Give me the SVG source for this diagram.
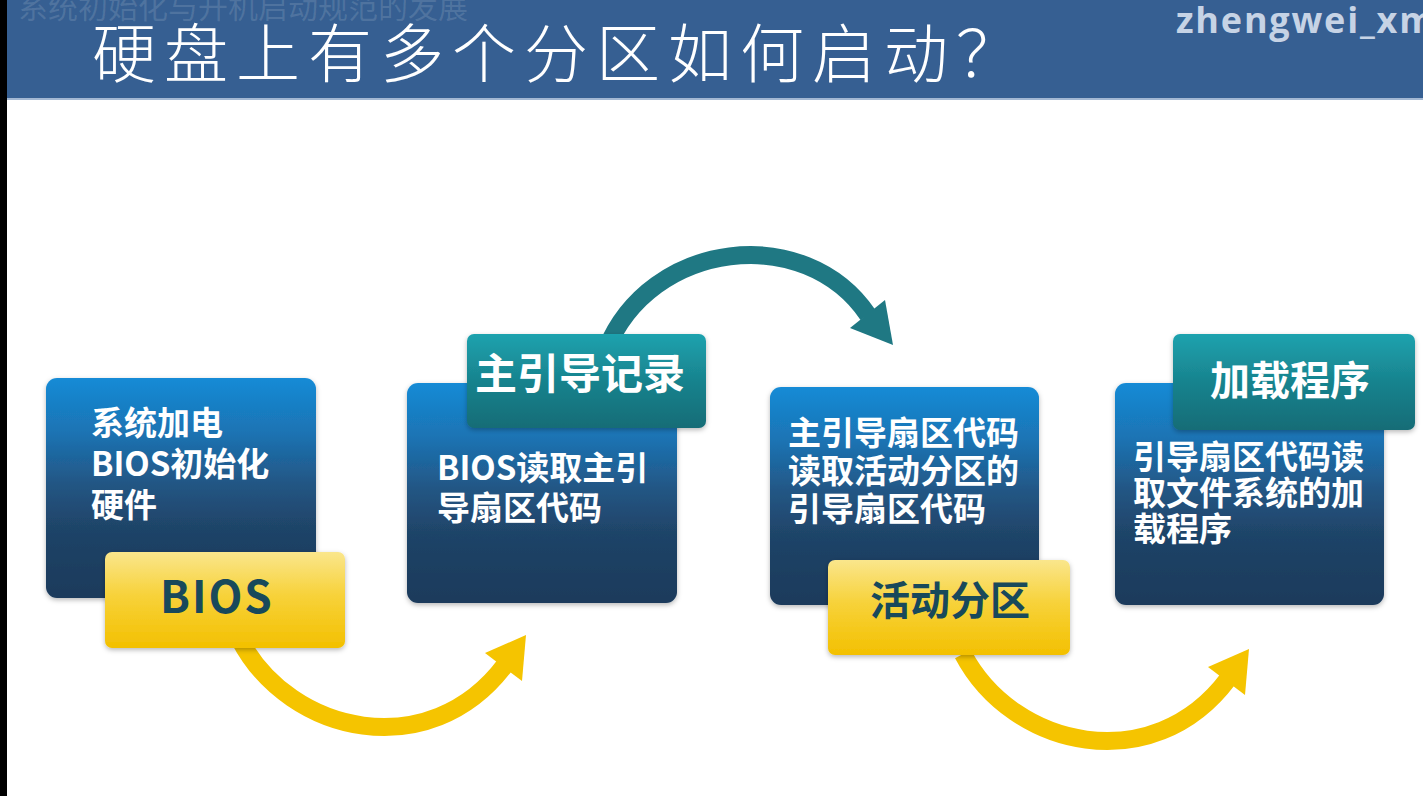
<svg xmlns="http://www.w3.org/2000/svg" width="1423" height="796" viewBox="0 0 1423 796">
<defs>
<linearGradient id="gBlue" x1="0" y1="0" x2="0" y2="1">
<stop offset="0" stop-color="#168bd6"/>
<stop offset="0.25" stop-color="#1b73b3"/>
<stop offset="0.48" stop-color="#235684"/>
<stop offset="0.68" stop-color="#1f4468"/>
<stop offset="1" stop-color="#1b3a5b"/>
</linearGradient>
<linearGradient id="gTeal" x1="0" y1="0" x2="0" y2="1">
<stop offset="0" stop-color="#1ea2ae"/>
<stop offset="0.5" stop-color="#18838e"/>
<stop offset="1" stop-color="#146c76"/>
</linearGradient>
<linearGradient id="gYellow" x1="0" y1="0" x2="0" y2="1">
<stop offset="0" stop-color="#fae68c"/>
<stop offset="0.45" stop-color="#f7d23a"/>
<stop offset="1" stop-color="#f3c000"/>
</linearGradient>
<filter id="shadow" x="-10%" y="-10%" width="120%" height="130%">
<feDropShadow dx="0" dy="2" stdDeviation="2.5" flood-color="#000" flood-opacity="0.28"/>
</filter>
</defs>
<style>
.blue{fill:url(#gBlue);filter:url(#shadow)}
.teal{fill:url(#gTeal);filter:url(#shadow)}
.yellow{fill:url(#gYellow);filter:url(#shadow)}
.body{font-family:"Noto Sans CJK SC","Liberation Sans",sans-serif;font-weight:700;font-size:33px;fill:#ffffff}
.tlab{font-family:"Noto Sans CJK SC","Liberation Sans",sans-serif;font-weight:700;fill:#ffffff}
.ylab{font-family:"Noto Sans CJK SC","Liberation Sans",sans-serif;font-weight:700;fill:#18495b}
.yarc{fill:none;stroke:#f5c400;stroke-width:18}
.yhead{fill:#f5c400}
.tarc{fill:none;stroke:#1f7883;stroke-width:18}
.thead{fill:#1f7883}
</style>
<rect x="0" y="0" width="1423" height="796" fill="#ffffff"/>
<g id="header">
<rect x="0" y="0" width="1423" height="98" fill="#365f92"/>
<rect x="0" y="98" width="1423" height="2" fill="#a3b8d3"/>
<text x="18" y="18" font-family="'Noto Sans CJK SC',sans-serif" font-size="30" fill="#ffffff" fill-opacity="0.13">系统初始化与开机启动规范的发展</text>
<text x="92" y="77" font-family="'Noto Sans CJK SC',sans-serif" font-weight="300" font-size="64" letter-spacing="8" fill="#ffffff">硬盘上有多个分区如何启动？</text>
<text x="1176" y="33" font-family="'Open Sans','Liberation Sans',sans-serif" font-weight="700" font-size="36" letter-spacing="1.8" fill="#c6d3e5">zhengwei_xm</text>
</g>
<rect x="0" y="0" width="7" height="796" fill="#000000"/>
<g id="connectors">
<path class="yarc" d="M 240 640 C 290 735, 430 765, 505 665"/>
<polygon class="yhead" points="526,635 485,653 522,681"/>
<g transform="translate(723,14)">
<path class="yarc" d="M 240 640 C 290 735, 430 765, 505 665"/>
<polygon class="yhead" points="526,635 485,653 522,681"/>
</g>
<path class="tarc" d="M 606 350 C 650 240, 805 222, 868 315"/>
<polygon class="thead" points="893,345 850,328 885,300"/>
</g>
<g id="step1">
<rect class="blue" x="46" y="378" width="270" height="220" rx="11"/>
<text class="body" x="91"><tspan x="91" y="435">系统加电</tspan><tspan x="91" y="476">BIOS初始化</tspan><tspan x="91" y="517">硬件</tspan></text>
</g>
<g id="label-bios">
<rect class="yellow" x="105" y="552" width="240" height="96" rx="7"/>
<text class="ylab" x="160" y="613" font-size="44" letter-spacing="2">BIOS</text>
</g>
<g id="step2">
<rect class="blue" x="407" y="383" width="270" height="220" rx="11"/>
<text class="body"><tspan x="437" y="480">BIOS读取主引</tspan><tspan x="437" y="520">导扇区代码</tspan></text>
</g>
<g id="label-mbr">
<rect class="teal" x="467" y="334" width="239" height="94" rx="7"/>
<text class="tlab" x="475" y="389" font-size="42">主引导记录</text>
</g>
<g id="step3">
<rect class="blue" x="770" y="387" width="269" height="218" rx="11"/>
<text class="body"><tspan x="788" y="445">主引导扇区代码</tspan><tspan x="788" y="483">读取活动分区的</tspan><tspan x="788" y="521">引导扇区代码</tspan></text>
</g>
<g id="label-active">
<rect class="yellow" x="828" y="560" width="242" height="95" rx="7"/>
<text class="ylab" x="870" y="615" font-size="40">活动分区</text>
</g>
<g id="step4">
<rect class="blue" x="1115" y="383" width="269" height="222" rx="11"/>
<text class="body"><tspan x="1133" y="469">引导扇区代码读</tspan><tspan x="1133" y="505">取文件系统的加</tspan><tspan x="1133" y="541">载程序</tspan></text>
</g>
<g id="label-loader">
<rect class="teal" x="1173" y="334" width="242" height="96" rx="7"/>
<text class="tlab" x="1210" y="395" font-size="40">加载程序</text>
</g>
</svg>
